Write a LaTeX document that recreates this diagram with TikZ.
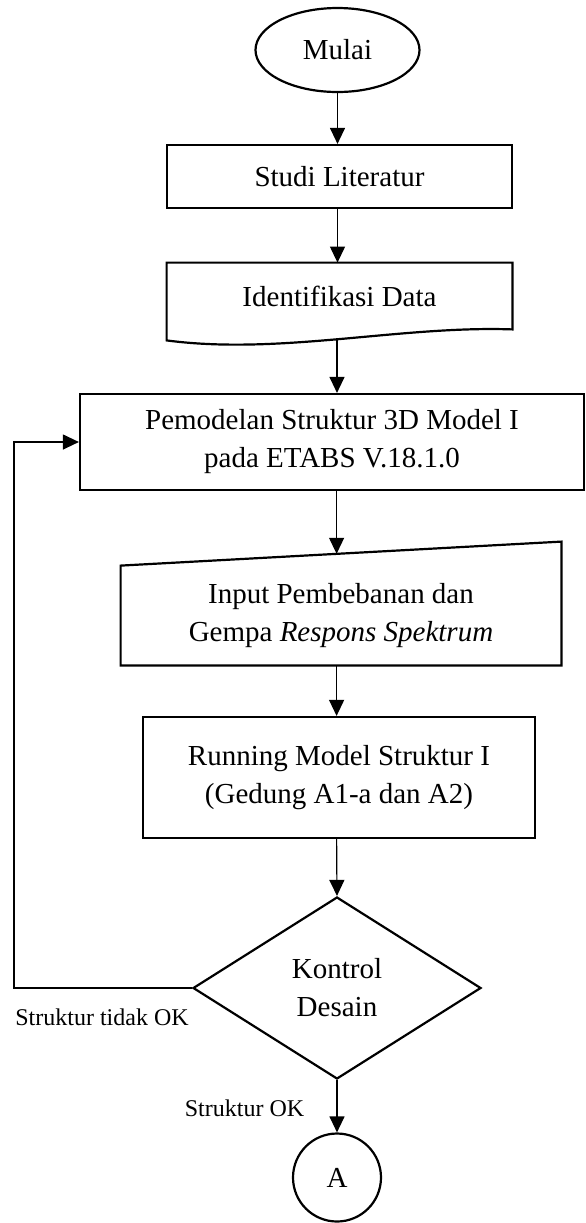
\documentclass[tikz,border=0pt]{standalone}
\usepackage{fontspec}
\setmainfont{Liberation Serif}
\usetikzlibrary{shapes,arrows.meta,calc,positioning}

\begin{document}
\begin{tikzpicture}[x=0.5pt,y=-0.5pt,
  every node/.style={font=\fontsize{14.5}{19}\selectfont,align=center,inner sep=0pt},
  flow/.style={-{Triangle[length=8pt,width=7.5pt]},line width=0.6pt}]
  \tikzstyle{box} = [draw,rectangle,line width=1.1pt]
  \tikzstyle{plain} = [rectangle]
  \tikzstyle{note} = [font=\fontsize{12}{14}\selectfont]
  \useasboundingbox (0,0) rectangle (585,1223);
  \node (mulai) [ellipse,draw,line width=1.1pt,minimum width=82pt,minimum height=42pt] at (337.5,50) {Mulai};
  \node (studi) [box,minimum width=172.5pt,minimum height=31.5pt] at (339.5,176.5) {Studi Literatur};
  \node (ident) [plain,minimum width=172.5pt,minimum height=33pt] at (339.5,296) {Identifikasi Data};
  \draw[line width=1.1pt] (ident.north west) -- (ident.north east) -- (ident.south east)
    .. controls +(-112,-4) and +(113,15) .. ($(ident.south west)+(0,11)$) -- cycle;
  \coordinate (identwave) at ($(ident.south)+(-2.5,10)$);
  \node (pemodelan) [box,minimum width=252pt,minimum height=48pt] at (332,442) {Pemodelan Struktur 3D Model I\\pada ETABS V.18.1.0};
  \node (input) [plain,minimum width=220pt,minimum height=49.5pt] at (341,615.5) {Input Pembebanan dan\\Gempa \textit{Respons Spektrum}};
  \draw[line width=1.1pt] (input.south west) -- (input.north west) -- ($(input.north east)+(0,-24)$) -- (input.south east) -- cycle;
  \coordinate (inputtop) at ($(input.north west)+(216,-11.8)$);
  \node (running) [box,minimum width=196pt,minimum height=60.5pt] at (339,777.5) {Running Model Struktur I\\(Gedung A1-a dan A2)};
  \node (kontrol) [diamond,draw,line width=1.1pt,aspect=1.58,minimum width=144pt,minimum height=91pt] at (337,988) {Kontrol\\Desain};
  \node (A) [circle,draw,line width=1.1pt,minimum size=44pt] at (337,1177.5) {A};
  \node (tidakok) [note,anchor=west] at (15,1017) {Struktur tidak OK};
  \node (ok) [note] at (244.5,1108) {Struktur OK};
  \coordinate (back) at (14,0);
  \draw[flow] (mulai) -- (mulai |- studi.north);
  \draw[flow] (mulai |- studi.south) -- (mulai |- ident.north);
  \draw[flow] (identwave) -- (identwave |- pemodelan.north);
  \draw[flow] (inputtop |- pemodelan.south) -- (inputtop);
  \draw[flow] (inputtop |- input.south) -- (inputtop |- running.north);
  \draw[flow] (inputtop |- running.south) -- (kontrol.north);
  \draw[flow] (kontrol.south) -- (A.north);
  \draw[flow] (kontrol.west) -- (kontrol.west -| back) |- (pemodelan.west);
\end{tikzpicture}
\end{document}
